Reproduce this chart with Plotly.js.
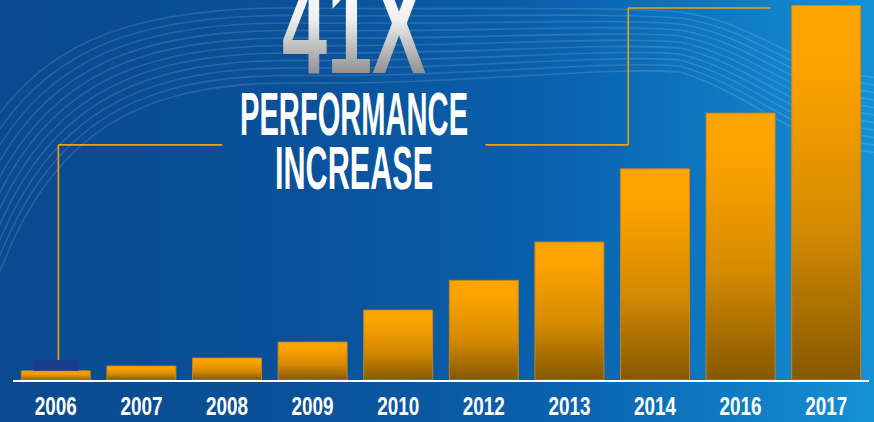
<!DOCTYPE html>
<html>
<head>
<meta charset="utf-8">
<script src="https://cdn.plot.ly/plotly-3.0.1.min.js"></script>
<style>
  html, body { margin:0; padding:0; width:874px; height:422px; overflow:hidden; }
  #wrap { position:relative; width:874px; height:422px;
    background: linear-gradient(90deg, #0a4a8e 0%, #0a519a 35%, #0a62ae 65%, #0f7cc4 85%, #1690d6 100%); }
  #bg { position:absolute; left:0; top:0; }
  #chart { position:absolute; left:0; top:0; width:874px; height:422px; }
</style>
</head>
<body>
<svg width="0" height="0" style="position:absolute">
  <defs>
    <linearGradient id="barGrad" x1="0" y1="0" x2="0" y2="1">
      <stop offset="0" stop-color="#ffa500"/>
      <stop offset="0.18" stop-color="#fca200"/>
      <stop offset="0.6" stop-color="#d48a00"/>
      <stop offset="1" stop-color="#855800"/>
    </linearGradient>
    <linearGradient id="titleGrad" gradientUnits="userSpaceOnUse" x1="0" y1="0" x2="0" y2="100">
      <stop offset="0" stop-color="#ffffff"/>
      <stop offset="0.45" stop-color="#f0f0f0"/>
      <stop offset="1" stop-color="#8e8e8e"/>
    </linearGradient>
  </defs>
</svg>
<div id="wrap">
  <svg id="bg" width="874" height="422"></svg>
  <div id="chart"></div>
</div>
<script>
// ---- data ----
const years = ["2006","2007","2008","2009","2010","2012","2013","2014","2016","2017"];
const performance = [1, 1.53, 2.4, 4.15, 7.65, 10.9, 15.1, 23.1, 29.2, 41];
const markerYears = ["2006"];
const markerBase = [1.0];
const markerHeight = [1.2];
const headline = "41X";
const subLines = ["PERFORMANCE", "INCREASE"];

// ---- decorative background waves ----
(function(){
  const svg = document.getElementById('bg');
  let html = '';
  for (let k = 0; k < 11; k++) {
    const d = k * 7.5;
    const p = `M -5 ${120 + 2.2*d} C 50 ${40 + 1.2*d}, 140 ${6 + d}, 300 ${8 + d} S 600 ${6 + 0.8*d}, 680 ${12 + 0.8*d} C 760 ${22 + d}, 790 ${70 + d}, 880 ${78 + d}`;
    html += `<path d="${p}" fill="none" stroke="rgba(255,255,255,0.13)" stroke-width="1.6"/>`;
  }
  svg.innerHTML = html;
})();

const FONT = 'Liberation Sans Narrow, Arial Narrow, sans-serif';
const traces = [
  {
    type: 'bar', x: years, y: performance,
    marker: { color: '#ffa500', line: { color: 'rgba(200,135,20,0.9)', width: 1 } },
    hoverinfo: 'skip'
  },
  {
    type: 'bar', x: markerYears, y: markerHeight, base: markerBase, width: [0.53],
    marker: { color: '#1a3c8c', line: { width: 0 } },
    hoverinfo: 'skip'
  }
];

const lineColor = '#f5a100';
const layout = {
  width: 874, height: 422,
  margin: { l: 13, r: 5, t: 5, b: 42 },
  paper_bgcolor: 'rgba(0,0,0,0)',
  plot_bgcolor: 'rgba(0,0,0,0)',
  showlegend: false,
  barmode: 'overlay',
  bargap: 0.194,
  xaxis: {
    type: 'category', range: [-0.5, 9.5],
    showgrid: false, zeroline: false,
    showline: true, linecolor: '#ffffff', linewidth: 2,
    ticks: '', ticklabelstandoff: 2,
    tickfont: { family: FONT, size: 26, color: '#ffffff', weight: 700 }
  },
  yaxis: {
    range: [0, 41.03], visible: false, showgrid: false, zeroline: false
  },
  shapes: [
    { type: 'line', xref: 'paper', yref: 'paper', x0: 0.053, x1: 0.053, y0: 0.0533, y1: 0.627, line: { color: lineColor, width: 1.6 } },
    { type: 'line', xref: 'paper', yref: 'paper', x0: 0.053, x1: 0.2445, y0: 0.627, y1: 0.627, line: { color: lineColor, width: 1.6 } },
    { type: 'line', xref: 'paper', yref: 'paper', x0: 0.552, x1: 0.7188, y0: 0.627, y1: 0.627, line: { color: lineColor, width: 1.6 } },
    { type: 'line', xref: 'paper', yref: 'paper', x0: 0.7188, x1: 0.7188, y0: 0.627, y1: 0.992, line: { color: lineColor, width: 1.6 } },
    { type: 'line', xref: 'paper', yref: 'paper', x0: 0.7188, x1: 0.8848, y0: 0.992, y1: 0.992, line: { color: lineColor, width: 1.6 } }
  ],
  annotations: [
    { text: '<span style="font-size:138px">' + headline + '</span><br>' + subLines.join('<br>'),
      xref: 'paper', yref: 'paper', x: 0.4, y: 0.7, xanchor: 'center', yanchor: 'middle', showarrow: false,
      align: 'center',
      font: { family: FONT, size: 62, color: '#ffffff', weight: 700 } }
  ]
};

// target layout of the headline block (page pixels)
const lineWidths = [144, 228, 158];
const lineOffsets = [0, 62, 116];
const firstBaseline = 73;
const centerX = 354;

Plotly.newPlot('chart', traces, layout, { staticPlot: true, displayModeBar: false }).then(function(gd){
  const barGroups = gd.querySelectorAll('g.trace.bars');
  if (barGroups[0]) {
    barGroups[0].querySelectorAll('path').forEach(function(p){ p.style.fill = 'url(#barGrad)'; });
  }
  gd.querySelectorAll('.xtick text').forEach(function(t){
    t.setAttribute('textLength', 42);
    t.setAttribute('lengthAdjust', 'spacingAndGlyphs');
  });
  const t = gd.querySelector('g.annotation text.annotation-text');
  if (!t) return;
  const p0 = t.getStartPositionOfChar(0);
  const baseY = p0.y;
  const lines = t.querySelectorAll('tspan.line');
  lines.forEach(function(ln, i){
    ln.setAttribute('textLength', lineWidths[i]);
    ln.setAttribute('lengthAdjust', 'spacingAndGlyphs');
    ln.removeAttribute('dy');
    ln.setAttribute('y', baseY + lineOffsets[i]);
  });
  const g = document.getElementById('titleGrad');
  g.setAttribute('y1', baseY - 100);
  g.setAttribute('y2', baseY + 2);
  const head = lines[0].querySelector('tspan') || lines[0];
  head.style.fill = 'url(#titleGrad)';
  const ctm = t.getScreenCTM();
  const chartRect = document.getElementById('chart').getBoundingClientRect();
  const q = t.getStartPositionOfChar(0).matrixTransform(ctm);
  const bb = t.getBoundingClientRect();
  const dy = firstBaseline - (q.y - chartRect.top);
  const dx = centerX - ((bb.left + bb.right) / 2 - chartRect.left);
  const prev = t.getAttribute('transform') || '';
  t.setAttribute('transform', 'translate(' + dx.toFixed(1) + ',' + dy.toFixed(1) + ') ' + prev);
});
</script>
</body>
</html>
